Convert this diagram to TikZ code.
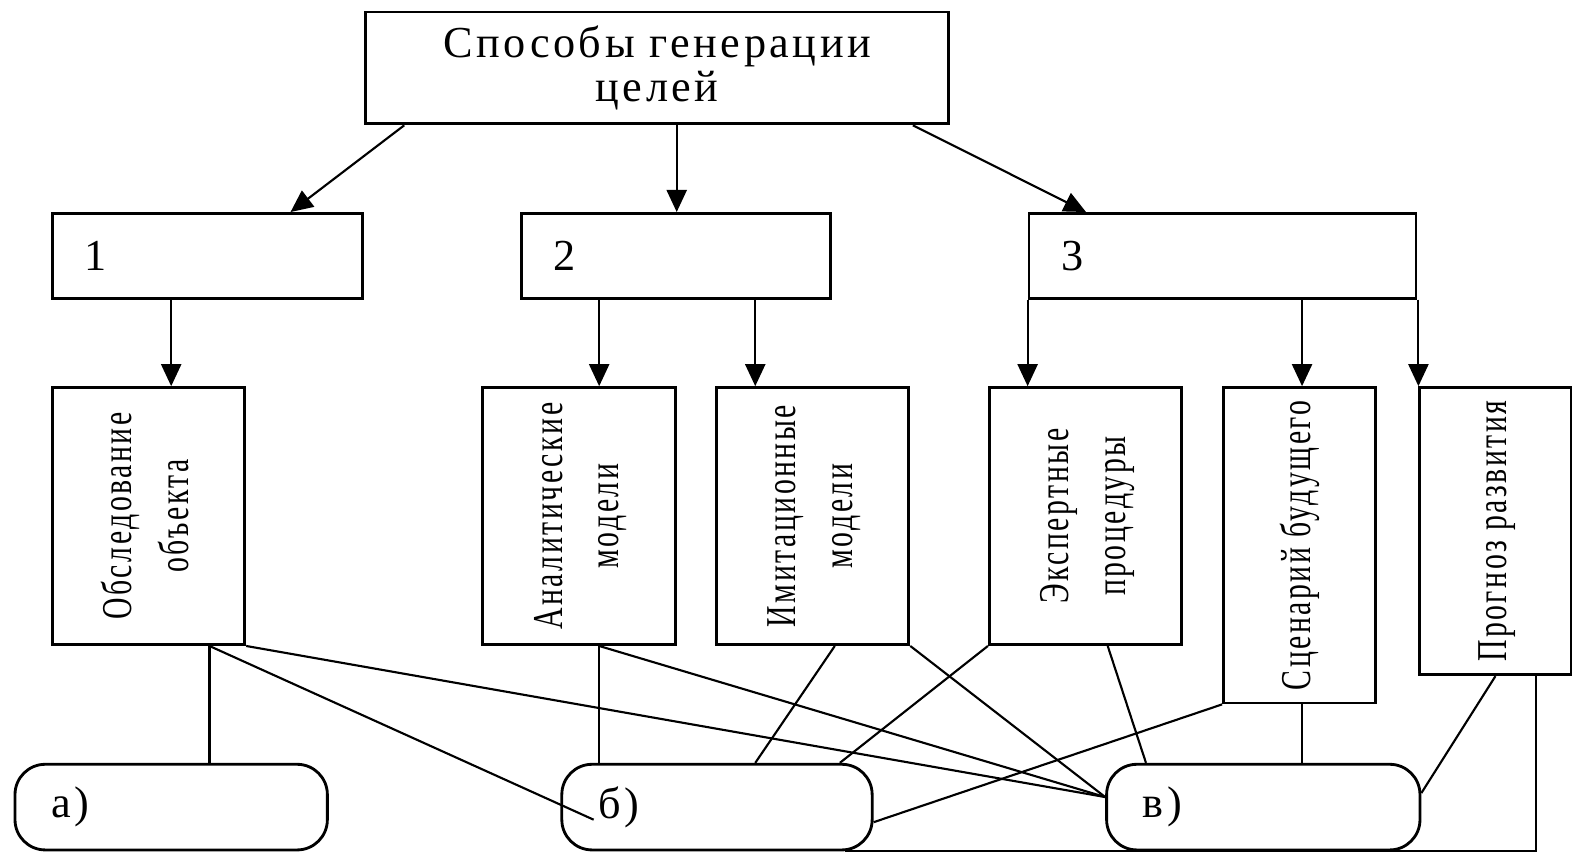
\documentclass[tikz,border=0pt]{standalone}
\usepackage{fontspec}
\usepackage{graphicx}
\setmainfont{Liberation Serif}[LetterSpace=8]
\newfontfamily\narrowserif[FakeStretch=0.7, LetterSpace=6]{Liberation Serif}
\usetikzlibrary{arrows.meta,calc}
\newcommand{\vlabel}[1]{\rotatebox{90}{\narrowserif\fontsize{12}{16}\selectfont\begin{tabular}{@{}c@{}}#1\end{tabular}}}
\tikzset{
	box/.style={draw, line width=0.8pt, inner sep=0pt},
	topbox/.style={box, minimum width=5.79cm, minimum height=1.11cm, align=center, font=\fontsize{12.5}{12.5}\selectfont},
	numbox/.style={box, minimum height=0.84cm, inner xsep=0.32cm, text width=#1, align=left, font=\fontsize{12.5}{14}\selectfont},
	vbox/.style={box, minimum width=1.91cm, minimum height=#1},
	pill/.style={draw, line width=0.8pt, rounded corners=0.3cm, minimum height=0.85cm, inner ysep=0pt, inner xsep=0.36cm, text width=#1, align=left, font=\fontsize{12.5}{14}\selectfont},
	arr/.style={line width=0.6pt, -{Triangle[length=0.22cm,width=0.2cm]}},
	ln/.style={line width=0.6pt}
}
\begin{document}
\begin{tikzpicture}[x=0.01cm, y=-0.01cm]
		\useasboundingbox (0,0) rectangle (1568,849);
		\node[topbox] at (652.5,67.5)(goal){Способы генерации\\целей};
		\node[numbox=2.44cm] at (206,254)(m1){1};
		\node[numbox=2.43cm] at (671.5,254)(m2){2};
		\node[numbox=3.20cm] at (1214,254)(m3){3};

		\node[vbox=2.55cm] at (147.5,512.5)(obj){\vlabel{Обследование\\объекта}};
		\node[vbox=2.55cm] at (575,512.5)(anm){\vlabel{Аналитические\\модели}};
		\node[vbox=2.55cm] at (807,512.5)(imm){\vlabel{Имитационные\\модели}};
		\node[vbox=2.55cm] at (1078,512.5)(exp){\vlabel{Экспертные\\процедуры}};
		\node[vbox=3.13cm, minimum width=1.51cm] at (1290.5,541.5)(scn){\vlabel{Сценарий будущего}};
		\node[vbox=2.85cm, minimum width=1.50cm] at (1485,527.5)(prg){\vlabel{Прогноз развития}};

		\node[pill=2.38cm] at (170,801.5)(pa){а)};
		\node[pill=2.36cm] at (712,801.5)(pb){б)};
		\node[pill=2.39cm] at (1254.5,801.5)(pc){в)};

		\draw[arr] ($(goal.south west)+(40,0)$) -- ($(m1.north west)+(238,0)$);
		\draw[arr] (672,0 |- goal.south) -- (672,0 |- m2.north);
		\draw[arr] ($(goal.south east)+(-37,0)$) -- ($(m3.north west)+(58,0)$);
		\draw[arr] (170,0 |- m1.south) -- (170,0 |- obj.north);
		\draw[arr] (595,0 |- m2.south) -- (595,0 |- anm.north);
		\draw[arr] (750,0 |- m2.south) -- (750,0 |- imm.north);
		\draw[arr] (m3.south west) -- (m3.south west |- exp.north);
		\draw[arr] (1293,0 |- m3.south) -- (1293,0 |- scn.north);
		\draw[arr] (prg.north west |- m3.south) -- (prg.north west);

		\coordinate (cin) at ($(pc.west)+(0,-10)$);
		\draw[ln] (208,0 |- obj.south) -- (208,0 |- pa.north);
		\draw[ln] (208,0 |- obj.south) -- ($(pb.west)+(33,12.5)$);
		\draw[ln] (obj.south east) -- (cin);
		\draw[ln] (595,0 |- anm.south) -- (595,0 |- pb.north);
		\draw[ln] (595,0 |- anm.south) -- (cin);
		\draw[ln] (829,0 |- imm.south) -- (750,0 |- pb.north);
		\draw[ln] (imm.south east) -- (cin);
		\draw[ln] (exp.south west) -- (834,0 |- pb.north);
		\draw[ln] (1100,0 |- exp.south) -- (1138,0 |- pc.north);
		\draw[ln] (scn.south west) -- ($(pb.east)+(0,15)$);
		\draw[ln] (1293,0 |- scn.south) -- (1293,0 |- pc.north);
		\draw[ln] (prg.south) -- ($(pc.east)+(0,-14)$);
		\draw[ln] (1525,0 |- prg.south) |- ($(pb.south east)+(-28,0)$);
	\end{tikzpicture}
\end{document}
